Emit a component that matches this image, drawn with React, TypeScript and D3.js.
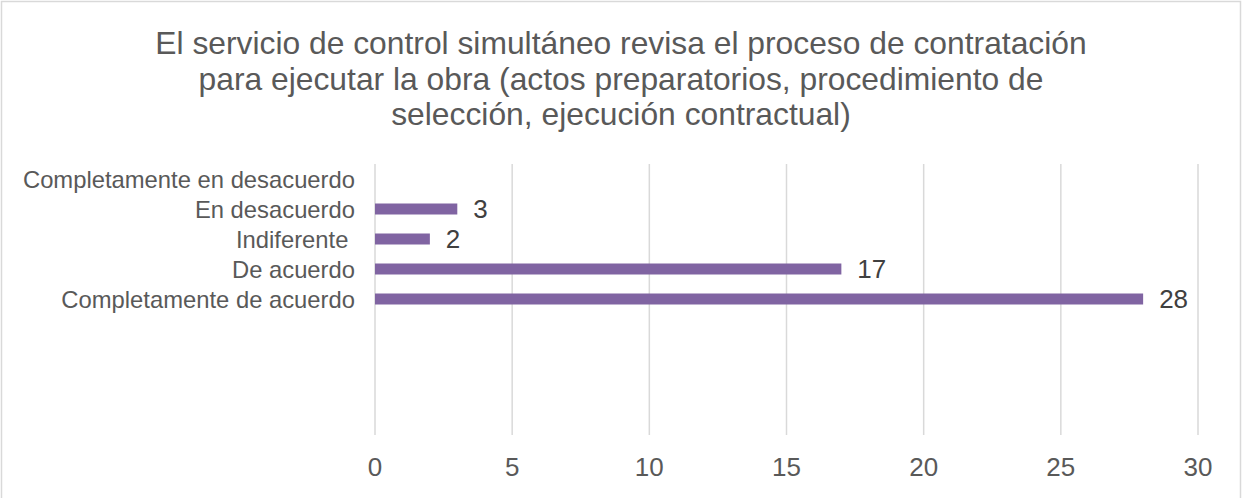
import React from "react";
import * as d3 from "d3";

const titleLines = [
  "El servicio de control simultáneo revisa el proceso de contratación",
  "para ejecutar la obra (actos preparatorios, procedimiento de",
  "selección, ejecución contractual)",
];
const categories = [
  "Completamente en desacuerdo",
  "En desacuerdo",
  "Indiferente ",
  "De acuerdo",
  "Completamente de acuerdo",
];
const values: (number | null)[] = [null, 3, 2, 17, 28];
const xTicks = [0, 5, 10, 15, 20, 25, 30];

const W = 1242;
const H = 498;
const FONT = "'Liberation Sans', Arial, sans-serif";

export default function App() {
  const x = d3.scaleLinear().domain([0, 30]).range([375, 1198]);
  const pi = 19 / 30;
  const y = d3
    .scaleBand<string>()
    .domain(categories)
    .range([164, 314])
    .paddingInner(pi)
    .paddingOuter(pi / 2);
  const plotTop = 164;
  const plotBottom = 435;

  return (
    <div style={{ position: "absolute", left: 0, top: 0 }}>
      <svg width={W} height={H} style={{ display: "block", fontFamily: FONT }}>
        <rect x={0} y={0} width={W} height={H} fill="#ffffff" />
        <rect x={1.5} y={1.5} width={W - 3} height={H + 10} fill="none" stroke="#d9d9d9" strokeWidth={1.5} />
        {titleLines.map((t, i) => (
          <text key={i} x={621} y={54 + i * 35.5} textAnchor="middle" fontSize={31.8} fill="#595959">
            {t}
          </text>
        ))}
        {xTicks.map((t) => (
          <g key={t}>
            <line x1={x(t)} x2={x(t)} y1={plotTop} y2={plotBottom} stroke="#d9d9d9" strokeWidth={1.5} />
            <text x={x(t)} y={467} textAnchor="middle" dominantBaseline="central" fontSize={26} fill="#595959">
              {t}
            </text>
          </g>
        ))}
        {categories.map((c, i) => {
          const yc = (y(c) as number) + y.bandwidth() / 2;
          const v = values[i];
          return (
            <g key={c}>
              <text
                x={355}
                y={yc}
                textAnchor="end"
                dominantBaseline="central"
                fontSize={23.8}
                fill="#595959"
                style={{ whiteSpace: "pre" }}
              >
                {c}
              </text>
              {v !== null && (
                <>
                  <rect x={x(0)} y={y(c)} width={x(v) - x(0)} height={y.bandwidth()} fill="#8064a2" />
                  <text x={x(v) + 16} y={yc} dominantBaseline="central" fontSize={26} fill="#404040">
                    {v}
                  </text>
                </>
              )}
            </g>
          );
        })}
      </svg>
    </div>
  );
}
